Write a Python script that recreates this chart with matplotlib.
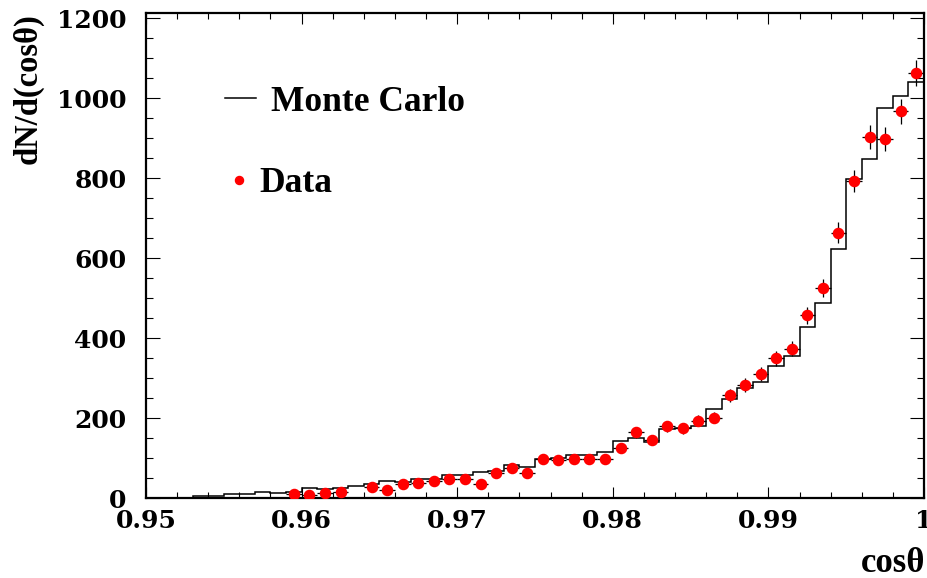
import numpy as np
import matplotlib
matplotlib.use("Agg")
import matplotlib.pyplot as plt
from matplotlib.ticker import MultipleLocator, FixedLocator
from matplotlib.lines import Line2D

# ---------------- data ----------------
x_lo = 0.95
x_hi = 1.0
n_bins = 50

mc_counts = [0, 0, 1, 4, 6, 10, 10, 14, 13, 16,
             25, 22, 26, 31, 36, 42, 40, 47, 48, 57,
             57, 66, 67, 83, 78, 97, 100, 107, 108, 116,
             142, 149, 140, 172, 174, 179, 222, 247, 274, 291,
             330, 354, 427, 488, 623, 797, 847, 976, 1004, 1040]

data_first_bin = 9
data_counts = [10, 7, 12, 14, None, 27, 21, 36, 37, 42,
               47, 48, 34, 62, 75, 62, 98, 94, 97, 97,
               97, 124, 164, 144, 179, 174, 193, 201, 257, 282,
               310, 349, 373, 457, 525, 663, 792, 902, 898, 967, 1062]
data_errors = [3, 3, 3, 4, None, 5, 5, 6, 6, 6,
               7, 7, 6, 8, 9, 8, 10, 10, 10, 10,
               10, 11, 13, 12, 13, 13, 14, 14, 16, 17,
               18, 19, 19, 21, 23, 26, 28, 30, 30, 31, 33]

x_ticks = [0.95, 0.96, 0.97, 0.98, 0.99, 1.0]
x_tick_labels = ["0.95", "0.96", "0.97", "0.98", "0.99", "1"]
y_ticks = [0, 200, 400, 600, 800, 1000, 1200]
y_tick_labels = ["0", "200", "400", "600", "800", "1000", "1200"]

legend_mc = "Monte Carlo"
legend_data = "Data"
x_title = "cos\u03b8"
y_title = "dN/d(cos\u03b8)"

# ---------------- figure ----------------
plt.rcParams['font.family'] = ['DejaVu Serif']
plt.rcParams['font.weight'] = 'bold'

W, H = 928, 578
fig = plt.figure(figsize=(W / 100, H / 100), dpi=100)
ax = fig.add_axes([146 / W, 1 - 498 / H, (924 - 146) / W, (498 - 12.5) / H])

edges = np.linspace(x_lo, x_hi, n_bins + 1)
ax.stairs(mc_counts, edges, color='black', lw=1.1, baseline=0)

bw = edges[1] - edges[0]
dx = np.array([edges[data_first_bin + i] + bw / 2 for i in range(len(data_counts))])
dy = np.array([np.nan if v is None else v for v in data_counts], dtype=float)
de = np.array([np.nan if v is None else v for v in data_errors], dtype=float)
ax.errorbar(dx, dy, xerr=bw / 2, yerr=de, fmt='o', color='red', ms=7.3,
            mec='red', ecolor='black', elinewidth=0.9, capsize=0, zorder=3)

ax.set_xlim(x_lo, x_hi)
ax.set_ylim(0, 1214)
ax.xaxis.set_major_locator(FixedLocator(x_ticks))
ax.set_xticklabels(x_tick_labels)
ax.xaxis.set_minor_locator(MultipleLocator(0.002))
ax.yaxis.set_major_locator(FixedLocator(y_ticks))
ax.set_yticklabels(y_tick_labels)
ax.yaxis.set_minor_locator(MultipleLocator(50))

ax.tick_params(which='both', direction='in', top=True, right=True,
               width=0.8, color='black')
ax.tick_params(axis='x', which='major', length=8, pad=8, labelsize=18)
ax.tick_params(axis='x', which='minor', length=4.3)
ax.tick_params(axis='y', which='major', length=10, pad=14, labelsize=18)
ax.tick_params(axis='y', which='minor', length=5)
for lab in ax.get_xticklabels() + ax.get_yticklabels():
    lab.set_fontweight('bold')
    lab.set_clip_on(False)

for s in ax.spines.values():
    s.set_linewidth(1.6)

# legend (drawn manually, ROOT style)
fig.add_artist(Line2D([225 / W, 256 / W], [1 - 98.3 / H] * 2, color='black', lw=1.1))
fig.text(271 / W, 1 - 111 / H, legend_mc, family='Liberation Serif',
         weight='bold', size=25.5, ha='left', va='baseline')
fig.add_artist(Line2D([239 / W], [1 - 180 / H], marker='o', color='red',
                      ms=5.8, ls='none'))
fig.text(259 / W, 1 - 192 / H, legend_data, family='Liberation Serif',
         weight='bold', size=25.5, ha='left', va='baseline')

# axis titles
fig.text(28 / W, 1 - 13 / H, y_title, family='Liberation Serif', weight='bold',
         size=23.5, rotation=90, ha='center', va='top')
fig.text(925 / W, 1 - 563 / H, x_title, family='Liberation Serif', weight='bold',
         size=25, ha='right', va='center')

fig.savefig("out.png", dpi=100)
